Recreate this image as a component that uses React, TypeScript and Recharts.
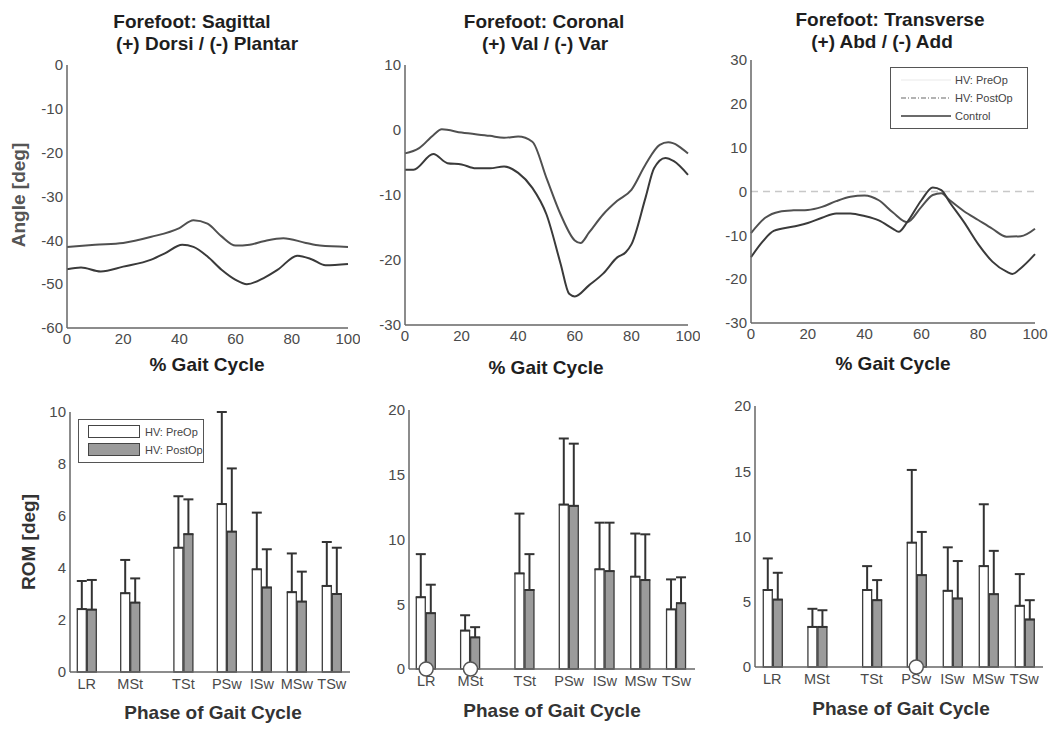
import React from 'react';
import {
  LineChart, Line, XAxis, YAxis, ReferenceLine,
  ComposedChart, Bar, ErrorBar, Scatter,
} from 'recharts';

const FONT = '"Liberation Sans", Arial, Helvetica, sans-serif';

// ---- joint angle curves (% gait cycle -> deg) ----
const sagUpperX = [0, 10, 20, 30, 40, 45, 50, 55, 60, 65, 70, 77, 85, 90, 100];
const sagUpperY = [-41.5, -41, -40.6, -39.2, -37.2, -35.4, -36.2, -39.1, -41.2, -41, -40.2, -39.5, -40.6, -41.2, -41.5];
const sagLowerX = [0, 5, 12, 20, 30, 35, 41, 45, 50, 55, 60, 64, 70, 75, 82, 87, 92, 100];
const sagLowerY = [-46.6, -46.2, -47.1, -46, -44.4, -42.9, -41, -41.5, -43.7, -46.7, -49, -50, -48.6, -46.7, -43.5, -44.3, -45.7, -45.4];

const corUpperX = [0, 5, 10, 13, 20, 30, 35, 40, 45, 50, 55, 60, 62, 65, 70, 75, 80, 85, 90, 93, 100];
const corUpperY = [-3.6, -2.8, -0.8, 0.1, -0.4, -0.9, -1.2, -1.0, -1.8, -7.4, -13, -17, -17.4, -15.8, -13, -10.9, -9.2, -5.3, -2.3, -1.9, -3.6];
const corLowerX = [0, 3, 10, 15, 20, 25, 30, 35, 40, 45, 50, 55, 58, 60, 65, 70, 75, 78, 80, 85, 88, 92, 95, 100];
const corLowerY = [-6.1, -6.1, -3.7, -5.1, -5.3, -5.9, -5.9, -5.6, -6.6, -8.9, -13, -20.6, -25.2, -25.6, -23.9, -22.1, -19.6, -18.8, -17.6, -10.4, -5.9, -4.3, -4.8, -6.9];

const traAX = [0, 5, 10, 15, 20, 25, 30, 35, 40, 45, 50, 55, 60, 64, 67, 70, 75, 80, 85, 90, 95, 100];
const traAY = [-9.5, -6, -4.6, -4.3, -4.2, -3.5, -2.2, -1.2, -0.9, -2, -4.8, -7, -3.5, -0.8, -0.4, -2, -4.5, -6.5, -8.5, -10.3, -10.2, -8.5];
const traBX = [0, 4, 8, 15, 20, 25, 30, 35, 40, 45, 50, 52, 55, 60, 64, 67, 70, 75, 80, 85, 90, 92, 95, 100];
const traBY = [-15, -11.5, -9, -8, -7.2, -6, -5, -5, -5.6, -6.6, -8.5, -9.2, -7, -2, 0.9, 0.3, -2.5, -7, -12, -16, -18.3, -18.8, -17.5, -14.3];

// ---- ROM per gait phase ----
const phaseNames = ['LR', 'MSt', 'TSt', 'PSw', 'ISw', 'MSw', 'TSw'];
const phasePos = [6, 21.5, 40.5, 56, 68.5, 81, 93.5];

const sagPre = [2.42, 3.03, 4.78, 6.46, 3.95, 3.07, 3.31];
const sagPreTop = [3.5, 4.31, 6.76, 10.0, 6.13, 4.56, 5.0];
const sagPost = [2.4, 2.67, 5.3, 5.4, 3.25, 2.71, 3.0];
const sagPostTop = [3.54, 3.6, 6.64, 7.83, 4.72, 3.86, 4.78];

const corPre = [5.54, 2.97, 7.38, 12.7, 7.7, 7.13, 4.6];
const corPreTop = [8.87, 4.15, 12.0, 17.8, 11.3, 10.46, 6.92];
const corPost = [4.31, 2.44, 6.1, 12.6, 7.56, 6.87, 5.08];
const corPostTop = [6.51, 3.23, 8.87, 17.4, 11.3, 10.4, 7.08];
const corSig = ['LR', 'MSt'];

const traPre = [5.9, 3.07, 5.9, 9.53, 5.84, 7.73, 4.69];
const traPreTop = [8.32, 4.46, 7.73, 15.1, 9.17, 12.47, 7.12];
const traPost = [5.17, 3.07, 5.12, 7.04, 5.25, 5.58, 3.64];
const traPostTop = [7.22, 4.35, 6.66, 10.35, 8.12, 8.9, 5.12];
const traSig = ['PSw'];

const toPts = (xs: number[], ys: number[]) => xs.map((x, i) => ({ x, y: ys[i] }));

const tickStyle = { fontSize: 15, fill: '#4a4a4a', fontFamily: FONT };
const axisLine = { stroke: '#666', strokeWidth: 1.5 };

function Text({ x, y, children, size = 19, color = '#1e1e1e', rotate = false, weight = 700 }: any) {
  return (
    <div
      style={{
        position: 'absolute', left: x, top: y, whiteSpace: 'nowrap',
        transform: `translate(-50%, -50%)${rotate ? ' rotate(-90deg)' : ''}`,
        fontFamily: FONT, fontWeight: weight, fontSize: size, color, lineHeight: 1,
      }}
    >
      {children}
    </div>
  );
}

function CurvePanel({ left, margin, yDomain, yTicks, series, zeroLine }: any) {
  return (
    <div style={{ position: 'absolute', left, top: 0 }}>
      <LineChart width={360} height={380} margin={margin}>
        <XAxis
          type="number" dataKey="x" domain={[0, 100]} ticks={[0, 20, 40, 60, 80, 100]}
          allowDuplicatedCategory={false} height={25} interval={0}
          tick={tickStyle} tickLine={false} tickSize={3} tickMargin={2} axisLine={axisLine}
        />
        <YAxis
          type="number" domain={yDomain} ticks={yTicks} width={35} interval={0}
          tick={tickStyle} tickLine={false} tickSize={3} tickMargin={1} axisLine={axisLine}
        />
        {zeroLine && <ReferenceLine y={0} stroke="#c8c8c8" strokeDasharray="7 5" strokeWidth={1.5} />}
        {series.map((s: any, i: number) => (
          <Line
            key={i} data={s.data} dataKey="y" type="monotone" stroke={s.color}
            strokeWidth={2} dot={false} isAnimationActive={false}
          />
        ))}
      </LineChart>
    </div>
  );
}

function RomPanel({ left, margin, yDomain, yTicks, pre, preTop, post, postTop, sig }: any) {
  const rows = phaseNames.map((name, i) => ({
    pos: phasePos[i],
    pre: pre[i],
    preErr: [0, preTop[i] - pre[i]],
    post: post[i],
    postErr: [0, postTop[i] - post[i]],
  }));
  const sigPts = (sig || []).map((n: string) => ({ pos: phasePos[phaseNames.indexOf(n)], v: 0 }));
  return (
    <div style={{ position: 'absolute', left, top: 380 }}>
      <ComposedChart width={360} height={350} margin={margin} data={rows} barGap={1}>
        <XAxis
          type="number" dataKey="pos" domain={[0, 100]} ticks={phasePos} interval={0}
          tickFormatter={(v: number) => phaseNames[phasePos.indexOf(v)]}
          height={25} tick={{ ...tickStyle, fontSize: 14.5 }} tickLine={false} tickSize={3} tickMargin={4} axisLine={axisLine}
        />
        <YAxis
          type="number" domain={yDomain} ticks={yTicks} width={35} interval={0}
          tick={tickStyle} tickLine={false} tickSize={3} tickMargin={1} axisLine={axisLine}
        />
        <Bar dataKey="pre" barSize={9} fill="#ffffff" stroke="#3c3c3c" strokeWidth={1.3} isAnimationActive={false}>
          <ErrorBar dataKey="preErr" direction="y" width={5} stroke="#333" strokeWidth={2} />
        </Bar>
        <Bar dataKey="post" barSize={9} fill="#9b9b9b" stroke="#3c3c3c" strokeWidth={1.3} isAnimationActive={false}>
          <ErrorBar dataKey="postErr" direction="y" width={5} stroke="#333" strokeWidth={2} />
        </Bar>
        {sigPts.length > 0 && (
          <Scatter
            data={sigPts} dataKey="v" isAnimationActive={false}
            shape={(p: any) => <circle cx={p.cx} cy={p.cy} r={7} fill="#fff" stroke="#555" strokeWidth={1.5} />}
          />
        )}
      </ComposedChart>
    </div>
  );
}

const dark = '#3a3a3a';
const mid = '#505050';

export default function App() {
  return (
    <div style={{ position: 'absolute', left: 0, top: 0, width: 1050, height: 730, background: '#fff', overflow: 'hidden' }}>
      <CurvePanel
        left={0} margin={{ top: 65, right: 12, bottom: 27, left: 32 }}
        yDomain={[-60, 0]} yTicks={[-60, -50, -40, -30, -20, -10, 0]}
        series={[
          { data: toPts(sagUpperX, sagUpperY), color: mid },
          { data: toPts(sagLowerX, sagLowerY), color: dark },
        ]}
      />
      <CurvePanel
        left={340} margin={{ top: 65, right: 12, bottom: 30, left: 30 }}
        yDomain={[-30, 10]} yTicks={[-30, -20, -10, 0, 10]}
        series={[
          { data: toPts(corUpperX, corUpperY), color: mid },
          { data: toPts(corLowerX, corLowerY), color: dark },
        ]}
      />
      <CurvePanel
        left={690} margin={{ top: 60, right: 15, bottom: 32, left: 26 }}
        yDomain={[-30, 30]} yTicks={[-30, -20, -10, 0, 10, 20, 30]} zeroLine
        series={[
          { data: toPts(traAX, traAY), color: mid },
          { data: toPts(traBX, traBY), color: dark },
        ]}
      />

      <RomPanel
        left={0} margin={{ top: 32, right: 10, bottom: 33, left: 35 }}
        yDomain={[0, 10]} yTicks={[0, 2, 4, 6, 8, 10]}
        pre={sagPre} preTop={sagPreTop} post={sagPost} postTop={sagPostTop}
      />
      <RomPanel
        left={340} margin={{ top: 30, right: 5, bottom: 36, left: 34 }}
        yDomain={[0, 20]} yTicks={[0, 5, 10, 15, 20]}
        pre={corPre} preTop={corPreTop} post={corPost} postTop={corPostTop} sig={corSig}
      />
      <RomPanel
        left={690} margin={{ top: 26, right: 7, bottom: 38, left: 30 }}
        yDomain={[0, 20]} yTicks={[0, 5, 10, 15, 20]}
        pre={traPre} preTop={traPreTop} post={traPost} postTop={traPostTop} sig={traSig}
      />

      {/* titles */}
      <Text x={192} y={21}>Forefoot: Sagittal</Text>
      <Text x={207} y={43}>(+) Dorsi / (-) Plantar</Text>
      <Text x={544} y={21}>Forefoot: Coronal</Text>
      <Text x={545} y={43}>(+) Val / (-) Var</Text>
      <Text x={890} y={19}>Forefoot: Transverse</Text>
      <Text x={882} y={41}>(+) Abd / (-) Add</Text>

      {/* axis labels */}
      <Text x={18} y={195} rotate color="#555">Angle [deg]</Text>
      <Text x={28} y={542} rotate color="#333">ROM [deg]</Text>
      <Text x={207} y={364}>% Gait Cycle</Text>
      <Text x={546} y={367}>% Gait Cycle</Text>
      <Text x={893} y={363}>% Gait Cycle</Text>
      <Text x={213} y={712} color="#333">Phase of Gait Cycle</Text>
      <Text x={552} y={710} color="#333">Phase of Gait Cycle</Text>
      <Text x={901} y={708} color="#333">Phase of Gait Cycle</Text>

      {/* line legend */}
      <div style={{ position: 'absolute', left: 890, top: 67, width: 136, height: 60, border: '1.5px solid #555', fontFamily: FONT, fontSize: 11, color: '#444' }}>
        {[
          { label: 'HV: PreOp', color: '#f0f0f0', dash: undefined },
          { label: 'HV: PostOp', color: '#9a9a9a', dash: '5 2 1 2' },
          { label: 'Control', color: '#3a3a3a', dash: undefined },
        ].map((e, i) => (
          <div key={i} style={{ position: 'absolute', left: 8, top: 6 + i * 18, display: 'flex', alignItems: 'center' }}>
            <svg width={52} height={8}>
              <line x1={2} y1={4} x2={52} y2={4} stroke={e.color} strokeWidth={1.5} strokeDasharray={e.dash} />
            </svg>
            <span style={{ marginLeft: 4 }}>{e.label}</span>
          </div>
        ))}
      </div>

      {/* bar legend */}
      <div style={{ position: 'absolute', left: 78, top: 419, width: 124, height: 42, border: '1.5px solid #555', fontFamily: FONT, fontSize: 11, color: '#444' }}>
        {[
          { label: 'HV: PreOp', fill: '#fff' },
          { label: 'HV: PostOp', fill: '#9b9b9b' },
        ].map((e, i) => (
          <div key={i} style={{ position: 'absolute', left: 9, top: 5 + i * 18, display: 'flex', alignItems: 'center' }}>
            <div style={{ width: 50, height: 11, background: e.fill, border: '1px solid #444' }} />
            <span style={{ marginLeft: 5 }}>{e.label}</span>
          </div>
        ))}
      </div>
    </div>
  );
}
